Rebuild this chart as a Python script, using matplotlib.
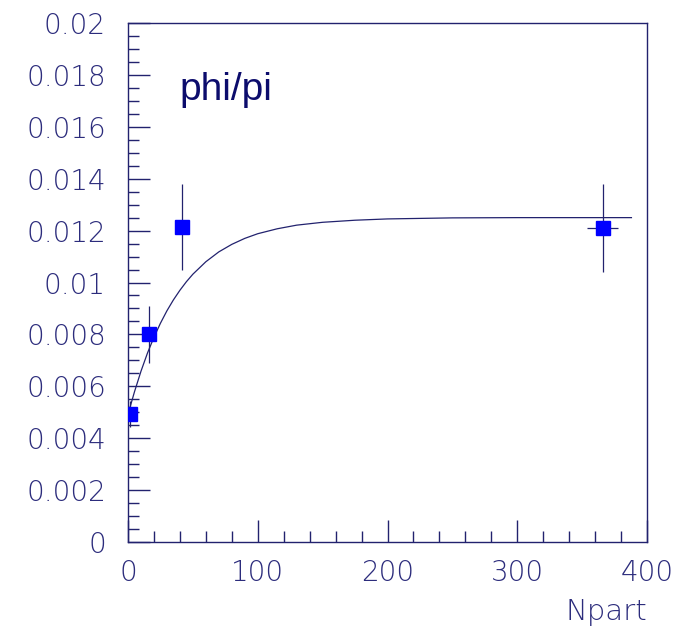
import numpy as np
import matplotlib
matplotlib.use('Agg')
import matplotlib.pyplot as plt
import matplotlib.transforms as mtransforms
from matplotlib.ticker import MultipleLocator, FuncFormatter

# measured points
npart = [1.5, 16.4, 41.9, 365.8]
npart_err = [0.0, 0.0, 0.0, 11.8]
ratio = [0.00493, 0.0080, 0.01215, 0.01209]
ratio_err = [0.0005, 0.0011, 0.00166, 0.0017]

# fit curve
fit_x = [1.5, 5, 10, 15, 20, 25, 30, 35, 40, 45, 50, 60, 70, 80, 90, 100,
         115, 130, 150, 175, 200, 250, 300, 388]
fit_y = [0.00518, 0.00579, 0.00658, 0.00728, 0.00789, 0.00843, 0.00891,
         0.00933, 0.00970, 0.01003, 0.01032, 0.01080, 0.01118, 0.01147,
         0.01170, 0.01188, 0.01207, 0.01221, 0.01232, 0.01240, 0.01245,
         0.01249, 0.01250, 0.01250]

navy = '#22226e'
label_col = '#2c2c7c'

fig = plt.figure(figsize=(6.81, 6.33), dpi=100)
ax = fig.add_axes([128 / 681, 91 / 633, 519 / 681, 519 / 633])

ax.plot(fit_x, fit_y, color=navy, lw=0.9, zorder=2)
ax.errorbar(npart, ratio, xerr=npart_err, yerr=ratio_err, fmt='none',
            ecolor=navy, elinewidth=0.9, capsize=0, zorder=3)
ax.plot(npart, ratio, 's', color='#0000ff', ms=10.5, mec='#0000ff', zorder=4)

ax.set_xlim(0, 400)
ax.set_ylim(0, 0.02)

for side in ['left', 'right', 'top', 'bottom']:
    ax.spines[side].set_color(navy)
    ax.spines[side].set_linewidth(1.0)

ax.xaxis.set_major_locator(MultipleLocator(100))
ax.xaxis.set_minor_locator(MultipleLocator(20))
ax.yaxis.set_major_locator(MultipleLocator(0.002))
ax.yaxis.set_minor_locator(MultipleLocator(0.0005))
ax.yaxis.set_major_formatter(FuncFormatter(lambda v, p: '0' if abs(v) < 1e-12 else ('%.3f' % v).rstrip('0')))

ax.tick_params(which='both', direction='in', color=navy, width=1.0,
               top=False, right=False)
ax.tick_params(which='major', length=16)
ax.tick_params(which='minor', length=8)
ax.tick_params(axis='x', which='major', pad=12)
ax.tick_params(axis='y', which='major', pad=16)

for lab in ax.get_xticklabels() + ax.get_yticklabels():
    lab.set_fontsize(20)
    lab.set_color(label_col)
    lab.set_fontweight('light')
    lab.set_family('DejaVu Sans')

# ROOT pulls the last x label inside the frame
fig.canvas.draw()
last = ax.get_xticklabels()[-1]
last.set_transform(last.get_transform() +
                   mtransforms.ScaledTranslation(-14 / 100, 0, fig.dpi_scale_trans))

ax.text(1.0, -56 / 519, 'Npart', transform=ax.transAxes, ha='right', va='top',
        fontsize=21, color=label_col, fontweight='light', family='DejaVu Sans')
ax.text(0.100, 0.852, 'phi/pi', transform=ax.transAxes, ha='left', va='baseline',
        fontsize=28, color='#0c0c6c', family='Liberation Sans')

fig.savefig('out.png', dpi=100)
